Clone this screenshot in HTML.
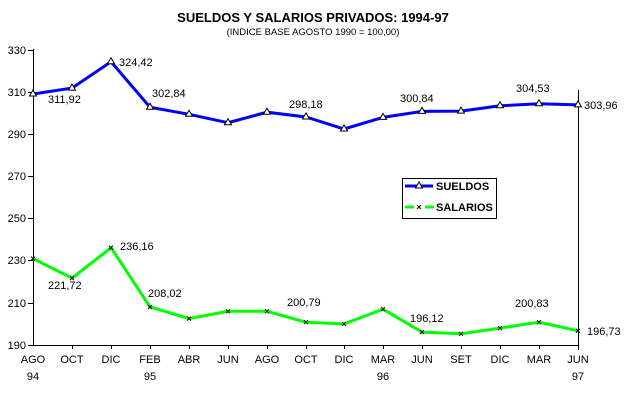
<!DOCTYPE html>
<html><head><meta charset="utf-8"><style>body{margin:0;background:#fff}svg{display:block}text{font-family:"Liberation Sans",Arial,sans-serif;font-size:11px;fill:#000}</style></head><body>
<svg width="628" height="400" viewBox="0 0 628 400">
<text x="313" y="22" text-anchor="middle" style="font-size:13px;font-weight:bold">SUELDOS Y SALARIOS PRIVADOS: 1994-97</text>
<text x="313" y="35" text-anchor="middle" style="font-size:9.5px">(INDICE BASE AGOSTO 1990 = 100,00)</text>
<g stroke="#000" stroke-width="1">
<line x1="33.5" y1="49" x2="33.5" y2="345"/>
<line x1="33" y1="345.5" x2="578" y2="345.5"/>
<line x1="28" y1="50.5" x2="33" y2="50.5"/><line x1="28" y1="92.5" x2="33" y2="92.5"/><line x1="28" y1="134.5" x2="33" y2="134.5"/><line x1="28" y1="176.5" x2="33" y2="176.5"/><line x1="28" y1="218.5" x2="33" y2="218.5"/><line x1="28" y1="260.5" x2="33" y2="260.5"/><line x1="28" y1="303.5" x2="33" y2="303.5"/><line x1="28" y1="345.5" x2="33" y2="345.5"/>
<path d="M72.5,345v4M111.5,345v4M150.5,345v4M189.5,345v4M228.5,345v4M267.5,345v4M306.5,345v4M344.5,345v4M383.5,345v4M422.5,345v4M461.5,345v4M500.5,345v4M539.5,345v4M578.5,345v4"/>
<line x1="578.5" y1="90" x2="578.5" y2="350"/>
</g>
<g text-anchor="end"><text x="26" y="54">330</text><text x="26" y="96">310</text><text x="26" y="138">290</text><text x="26" y="180">270</text><text x="26" y="222">250</text><text x="26" y="264">230</text><text x="26" y="307">210</text><text x="26" y="349">190</text></g>
<g text-anchor="middle" style="font-size:10px">
<text x="33" y="363">AGO</text><text x="72" y="363">OCT</text><text x="111" y="363">DIC</text><text x="150" y="363">FEB</text><text x="189" y="363">ABR</text><text x="228" y="363">JUN</text><text x="267" y="363">AGO</text><text x="306" y="363">OCT</text><text x="344" y="363">DIC</text><text x="383" y="363">MAR</text><text x="422" y="363">JUN</text><text x="461" y="363">SET</text><text x="500" y="363">DIC</text><text x="539" y="363">MAR</text><text x="578" y="363">JUN</text>
<text x="33" y="380">94</text><text x="150" y="380">95</text><text x="383" y="380">96</text><text x="578" y="380">97</text></g>
<polyline fill="none" stroke="#0000ff" stroke-width="3" points="33,94 72,88.1 111,61.8 150,107.2 189,114.3 228,122.7 267,112.2 306,117 344,129 383,117.4 422,111.4 461,111.1 500,105.8 539,103.7 578,104.9"/>
<polyline fill="none" stroke="#00ff00" stroke-width="3" points="33,258.6 72,278.1 111,247.7 150,307 189,318.6 228,311.3 267,311.3 306,322.2 344,323.9 383,309.2 422,332.1 461,333.8 500,328.1 539,322.2 578,330.8"/>
<g fill="#fff" stroke="#000" stroke-width="1">
<path d="M33,90l-3.5,6h7z M72,84.1l-3.5,6h7z M111,57.8l-3.5,6h7z M150,103.2l-3.5,6h7z M189,110.3l-3.5,6h7z M228,118.7l-3.5,6h7z M267,108.2l-3.5,6h7z M306,113l-3.5,6h7z M344,125l-3.5,6h7z M383,113.4l-3.5,6h7z M422,107.4l-3.5,6h7z M461,107.1l-3.5,6h7z M500,101.8l-3.5,6h7z M539,99.7l-3.5,6h7z M578,100.9l-3.5,6h7z"/>
</g>
<g stroke="#000" stroke-width="1">
<path d="M31,256.6l4,4m0,-4l-4,4 M70,276.1l4,4m0,-4l-4,4 M109,245.7l4,4m0,-4l-4,4 M148,305l4,4m0,-4l-4,4 M187,316.6l4,4m0,-4l-4,4 M226,309.3l4,4m0,-4l-4,4 M265,309.3l4,4m0,-4l-4,4 M304,320.2l4,4m0,-4l-4,4 M342,321.9l4,4m0,-4l-4,4 M381,307.2l4,4m0,-4l-4,4 M420,330.1l4,4m0,-4l-4,4 M459,331.8l4,4m0,-4l-4,4 M498,326.1l4,4m0,-4l-4,4 M537,320.2l4,4m0,-4l-4,4 M576,328.8l4,4m0,-4l-4,4"/>
</g>
<g>
<text x="48" y="103">311,92</text><text x="119" y="66">324,42</text><text x="152" y="97">302,84</text><text x="289" y="108">298,18</text><text x="400" y="102">300,84</text><text x="516" y="92">304,53</text><text x="584" y="109">303,96</text>
<text x="48" y="289">221,72</text><text x="120" y="250">236,16</text><text x="148" y="297">208,02</text><text x="287" y="306">200,79</text><text x="410" y="322">196,12</text><text x="515" y="307">200,83</text><text x="587" y="335">196,73</text>
</g>
<rect x="402.5" y="178.5" width="94" height="40" fill="#fff" stroke="#000"/>
<line x1="405" y1="186" x2="433" y2="186" stroke="#0000ff" stroke-width="3"/>
<path d="M419,182l-3.5,6h7z" fill="#fff" stroke="#000"/>
<line x1="405" y1="207" x2="414" y2="207" stroke="#00ff00" stroke-width="3"/>
<line x1="425" y1="207" x2="434" y2="207" stroke="#00ff00" stroke-width="3"/>
<path d="M417,205l4,4m0,-4l-4,4" stroke="#000"/>
<text x="436" y="190" style="font-weight:bold;font-size:11px">SUELDOS</text>
<text x="436" y="211" style="font-weight:bold;font-size:11px">SALARIOS</text>
</svg>
</body></html>
